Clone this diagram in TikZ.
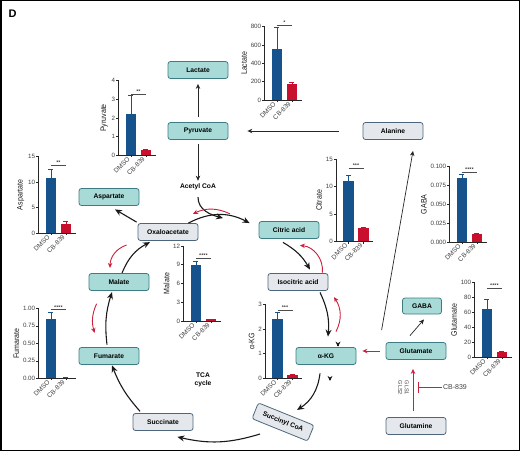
\documentclass[tikz,border=0pt]{standalone}
\usepackage{fontspec}
\setmainfont{Liberation Sans}
\newfontfamily\narrowfont[FakeStretch=0.88]{Liberation Sans}
\usetikzlibrary{arrows.meta,positioning,calc}

\definecolor{tealfill}{RGB}{168,219,215}
\definecolor{tealline}{RGB}{62,124,132}
\definecolor{greyfill}{RGB}{228,232,236}
\definecolor{greyline}{RGB}{78,102,124}
\definecolor{dmsoblue}{RGB}{22,82,140}
\definecolor{cbred}{RGB}{200,16,46}
\definecolor{inhred}{RGB}{205,30,60}

\tikzset{
  pool/.style={rounded corners=2.5pt, line width=0.8pt, minimum width=60pt, minimum height=17pt, inner sep=0pt, font=\fontsize{6.7}{8}\selectfont\bfseries},
  tealbox/.style={pool, draw=tealline, fill=tealfill},
  greybox/.style={pool, draw=greyline, fill=greyfill},
  freetext/.style={font=\fontsize{6.7}{8.5}\selectfont\bfseries, inner sep=1pt, align=center},
  flow/.style={-{Stealth[length=5pt,width=4.5pt]}, line width=0.7pt, draw=black!85},
  cyc/.style={-{Stealth[length=7pt,width=6pt]}, line width=1.1pt, draw=black!90},
  back/.style={-{Stealth[length=5pt,width=4.5pt]}, line width=0.9pt, draw=inhred},
  chartaxis/.style={line width=0.6pt, draw=black!85},
  ticklab/.style={font=\fontsize{6.2}{7}\selectfont, text=black!75, inner sep=0.8pt},
  chartlab/.style={font=\narrowfont\fontsize{8}{9}\selectfont, text=black!90, inner sep=0pt},
  xlab/.style={font=\fontsize{6.5}{7}\selectfont, text=black!75, inner sep=0.5pt},
  errbar/.style={line width=0.5pt},
  sigline/.style={line width=0.5pt, draw=black!70},
  stars/.style={font=\fontsize{5.5}{5.5}\selectfont, inner sep=0.3pt}
}

% small bar chart: label, origin, height, max, ticks, bars, sig level, stars, name
\newcommand{\minichart}[9]{%
  \begin{scope}[shift={#2}]
    \foreach \v/\l [count=\k] in {#5} {
      \draw[chartaxis] (0,{\v/#4*#3}) -- ++(-2.5,0) node[ticklab,anchor=east] (#9t\k) {\l};
      \xdef\lastk{\k}
    }
    \pgfmathsetmacro\midh{#3/2}
    \node[chartlab,rotate=90,anchor=south] (#9lab) at ([xshift=-2.5pt]#9t\lastk.west |- 0,\midh) {#1};
    \foreach \c/\v/\e/\g [count=\n] in {#6} {
      \pgfmathsetmacro\bx{7+15*(\n-1)}
      \draw[errbar,draw=\c] (\bx+5.25,{\v/#4*#3}) -- (\bx+5.25,{\e/#4*#3}) ++(-2.5,0) -- ++(5,0);
      \fill[\c] (\bx,0) rectangle ++(10.5,{\v/#4*#3});
      \draw[chartaxis] (\bx+5.25,0) -- ++(0,-2);
      \node[xlab,rotate=45,anchor=east] (#9x\n) at (\bx+3.5,-2.5) {\g};
    }
    \draw[chartaxis] (0,#3) -- (0,0) -- (37,0);
    \draw[sigline] (12.25,{#7/#4*#3}) -- node[stars,above] (#9sig) {#8} (27.25,{#7/#4*#3});
  \end{scope}}

\begin{document}
\begin{tikzpicture}[x=1pt,y=1pt]
\useasboundingbox (0,0) rectangle (520,451);
\draw[line width=1.5pt] (0.75,0.75) rectangle (519.25,450.25);
\node[font=\fontsize{11}{13}\selectfont\bfseries] (panel) at (12.5,437) {D};

% metabolites
\node[tealbox] (lac) at (198,381) {Lactate};
\node[tealbox] (pyr) at (198,320) {Pyruvate};
\node[freetext] (acoa) at (198,264) {Acetyl CoA};
\node[greybox] (ala) at (393,320) {Alanine};
\node[tealbox] (asp) at (109,254) {Aspartate};
\node[greybox] (oaa) at (168,219) {Oxaloacetate};
\node[tealbox] (cit) at (289,221) {Citric acid};
\node[greybox] (icit) at (298,169) {Isocitric acid};
\node[tealbox] (akg) at (326,95) {α-KG};
\node[tealbox] (glu) at (416,100) {Glutamate};
\node[tealbox, minimum width=39pt, minimum height=16pt] (gaba) at (422,145) {GABA};
\node[greybox] (gln) at (416,25) {Glutamine};
\node[tealbox] (mal) at (119,169) {Malate};
\node[tealbox] (fum) at (109,95) {Fumarate};
\node[greybox] (suc) at (163,29) {Succinate};
\node[greybox, rotate=-22] (sucoa) at (283,29) {Succinyl CoA};
\node[freetext] (tca) at (203,71) {TCA\\cycle};

% side routes
\draw[flow, shorten <=5pt, shorten >=5pt] (pyr) -- (lac);
\draw[flow, shorten <=4pt, shorten >=2pt] (pyr) -- (acoa);
\draw[flow, shorten <=24pt, shorten >=19pt] (ala) -- (pyr);
\draw[flow] ([xshift=-4pt,yshift=12pt]glu.north west) -- ([xshift=20pt,yshift=-11pt]ala.south);
\draw[flow] ([xshift=-6pt,yshift=6.5pt]glu.north) -- ([xshift=2pt,yshift=-5pt]gaba.south);
\draw[back, shorten <=6pt, shorten >=6pt] (glu.west) -- (glu.west -| akg.east);
\draw[back, shorten <=6pt, shorten >=9pt] ([xshift=-3pt]gln.north) -- ([xshift=-3pt]glu.south);

% glutaminase block
\node[font=\fontsize{7}{8}\selectfont, text=black!75, inner sep=1pt] (cb) at (455,64) {CB-839};
\node[font=\fontsize{5.5}{6.7}\selectfont, text=black!75, rotate=-90, align=center, inner sep=0pt] (gls) at (403.5,63) {GLS1\\GLS2};
\coordinate (glsx) at ([xshift=2pt]gln.north |- cb.west);
\draw[line width=0.8pt, draw=inhred, -{Bar[width=11pt]}] (cb.west) -- (glsx);

% TCA cycle
\draw[cyc] ([yshift=-5.8pt]acoa.south) to[out=-90,in=165] ([xshift=25pt,yshift=-26.8pt]acoa.south);
\draw[cyc] ([xshift=-10pt]oaa.north east) to[bend left=28] ([xshift=-9pt,yshift=-2pt]cit.north west);
\draw[cyc] ([xshift=-6pt,yshift=-3.5pt]cit.south) to[bend left=15] ([xshift=12pt,yshift=3.5pt]icit.north);
\draw[cyc] ([xshift=22pt,yshift=-1.5pt]icit.south) to[bend left=15] ([xshift=2pt,yshift=10.5pt]akg.north);
\draw[cyc] ([xshift=-6pt,yshift=-8.5pt]akg.south) to[bend left=25] ($(sucoa)+(14,12)$);
\draw[cyc] ($(sucoa)+(-23,-12)$) to[bend left=15] ([xshift=-16pt,yshift=-6pt]suc.south east);
\draw[cyc] ([xshift=-23pt,yshift=1.8pt]suc.north) to[bend left=10] ([xshift=3pt,yshift=-0.5pt]fum.south);
\draw[cyc] ([xshift=-2pt,yshift=2.5pt]fum.north) to[bend left=12] ([xshift=-7pt,yshift=-1.2pt]mal.south);
\draw[cyc] ([xshift=3pt]mal.north) to[bend left=20] ([xshift=-18pt,yshift=-1.2pt]oaa.south);
\draw[cyc] ([xshift=-1pt,yshift=1pt]oaa.north west) -- ([xshift=6pt,yshift=-3.5pt]asp.south);
\draw[cyc, -{Stealth[length=5pt,width=5pt]}] ([xshift=12pt,yshift=1pt]akg.north) -- ++(0,-0.5);
\draw[cyc, -{Stealth[length=5pt,width=5pt]}] ([xshift=4pt,yshift=-15.5pt]akg.south) -- ++(0,-0.5);

% reverse flux
\draw[back] ([xshift=32pt,yshift=-22.5pt]acoa.south) to[bend right=25] ([xshift=-5pt,yshift=-22.5pt]acoa.south);
\draw[back] ([xshift=-6pt,yshift=0.5pt]icit.north east) to[bend right=45] ([xshift=11pt,yshift=-6.5pt]cit.south);
\draw[back] ([xshift=10pt,yshift=15.5pt]akg.north) to[bend right=30] ([xshift=36pt,yshift=-6.2pt]icit.south);
\draw[back] ([xshift=-11pt,yshift=-13pt]oaa.west) to[bend right=35] ([xshift=-9pt,yshift=5.2pt]mal.north);
\draw[back] ([xshift=8pt,yshift=-12.8pt]mal.south west) to[bend right=20] ([xshift=16pt,yshift=14.2pt]fum.north west);

% bar charts
\minichart{Pyruvate}{(118.7,295.7)}{74.6}{4}{0/0,1/1,2/2,3/3,4/4}{dmsoblue/2.2/3.2/DMSO,cbred/0.27/0.33/CB-839}{3.28}{**}{pyrc}
\minichart{Lactate}{(264.7,351)}{73.3}{800}{0/0,200/200,400/400,600/600,800/800}{dmsoblue/555/790/DMSO,cbred/170/195/CB-839}{815}{*}{lacc}
\minichart{Aspartate}{(38.7,217.7)}{76.7}{15}{0/0,5/5,10/10,15/15}{dmsoblue/10.8/12.6/DMSO,cbred/1.9/2.3/CB-839}{13.3}{**}{aspc}
\minichart{Fumarate}{(38.7,72.7)}{70}{1}{0/0.00,0.25/0.25,0.5/0.50,0.75/0.75,1/1.00}{dmsoblue/0.85/0.94/DMSO,cbred/0.01/0.012/CB-839}{0.98}{****}{fumc}
\minichart{Malate}{(183.7,130)}{75}{12}{0/0,3/3,6/6,9/9,12/12}{dmsoblue/9.0/9.6/DMSO,cbred/0.3/0.36/CB-839}{10.0}{****}{malc}
\minichart{Citrate}{(336.3,209.3)}{82.7}{15}{0/0,5/5,10/10,15/15}{dmsoblue/11.0/12.1/DMSO,cbred/2.45/2.6/CB-839}{13.3}{***}{citc}
\minichart{GABA}{(449.7,209)}{75.3}{0.1}{0/0.000,0.025/0.025,0.05/0.050,0.075/0.075,0.1/0.100}{dmsoblue/0.085/0.090/DMSO,cbred/0.01/0.012/CB-839}{0.093}{****}{gabac}
\minichart{Glutamate}{(474.7,93.7)}{74.7}{100}{0/0,20/20,40/40,60/60,80/80,100/100}{dmsoblue/65/78/DMSO,cbred/7/8/CB-839}{93}{****}{gluc}
\minichart{α-KG}{(265.3,72.7)}{74}{3}{0/0,1/1,2/2,3/3}{dmsoblue/2.4/2.67/DMSO,cbred/0.15/0.18/CB-839}{2.77}{***}{akgc}
\end{tikzpicture}
\end{document}
